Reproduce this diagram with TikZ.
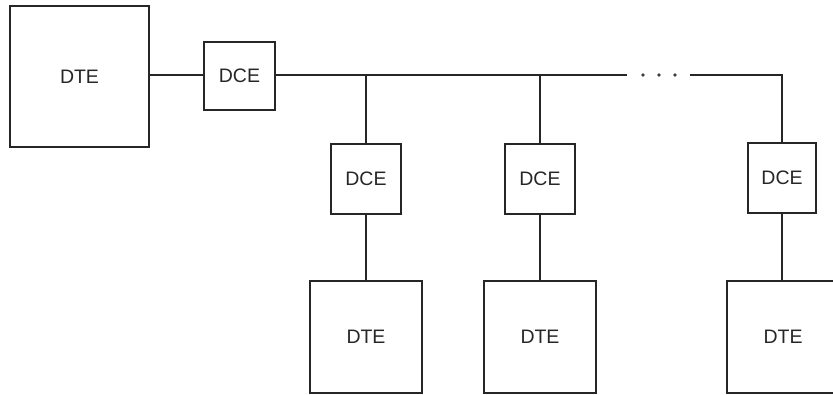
\documentclass[tikz,border=0pt]{standalone}
\usepackage{fontspec}
\setmainfont{Liberation Sans}
\begin{document}
\begin{tikzpicture}[x=1pt,y=-1pt,
  box/.style={draw=black!85,line width=1.4pt,inner sep=0pt,font=\fontsize{19.5}{22}\selectfont,text=black!85},
  wire/.style={draw=black!85,line width=1.4pt},
  dotmark/.style={circle,fill=black!75,inner sep=0pt,minimum size=3.6pt}]
\useasboundingbox (0,0) rectangle (833,395);
\clip (0,0) rectangle (833,395);
\node[box,minimum width=139pt,minimum height=141pt] (dte0) at (79.5,76.5) {DTE};
\node[box,minimum width=71pt,minimum height=68pt] (dce1) at (239.5,76) {DCE};
\node[box,minimum width=70pt,minimum height=70pt] (dce2) at (366,179) {DCE};
\node[box,minimum width=70pt,minimum height=70pt] (dce3) at (540,179) {DCE};
\node[box,minimum width=68pt,minimum height=70pt] (dce4) at (782,178) {DCE};
\node[box,minimum width=112pt,minimum height=112pt] (dte2) at (366,337) {DTE};
\node[box,minimum width=112pt,minimum height=112pt] (dte3) at (540,337) {DTE};
\node[box,minimum width=112pt,minimum height=112pt] (dte4) at (783,337) {DTE};
\coordinate (busL) at (627,75);
\coordinate (busR) at (690,75);
\node[dotmark] (d1) at (643,75) {};
\node[dotmark] (d2) at (659,75) {};
\node[dotmark] (d3) at (675,75) {};
\draw[wire] (dte0.east|-busL) -- (dce1.west|-busL);
\draw[wire] (dce1.east|-busL) -- (busL);
\draw[wire] (busR) -| (dce4.north);
\draw[wire] (dce2.north|-busL) -- (dce2.north);
\draw[wire] (dce3.north|-busL) -- (dce3.north);
\draw[wire] (dce2.south) -- (dte2.north);
\draw[wire] (dce3.south) -- (dte3.north);
\draw[wire] (dce4.south) -- (dce4.south|-dte4.north);
\end{tikzpicture}
\end{document}
